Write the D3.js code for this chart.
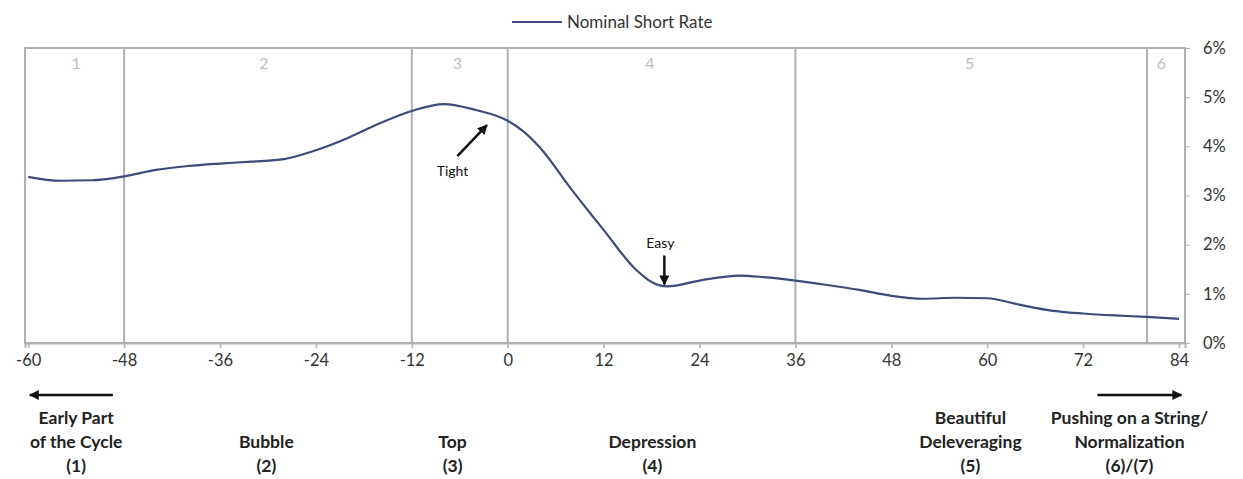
<!DOCTYPE html>
<html><head><meta charset="utf-8">
<script src="https://cdn.jsdelivr.net/npm/d3@7"></script>
<style>
body{margin:0;background:#fff;}
svg{display:block;}
</style></head>
<body>
<svg id="c" width="1243" height="479"></svg>
<script>
const months = [-60,-56,-52,-48,-44,-40,-36,-32,-28,-24,-20,-16,-12,-8,-4,0,2,4,8,12,16,18,20,24,29,32,36,40,44,48,52,56,60,64,68,72,76,80,84];
const rates  = [3.38,3.30,3.31,3.39,3.52,3.60,3.65,3.69,3.74,3.92,4.17,4.47,4.72,4.86,4.74,4.52,4.3,3.98,3.12,2.3,1.5,1.24,1.15,1.27,1.37,1.34,1.27,1.18,1.08,0.96,0.9,0.92,0.91,0.78,0.66,0.6,0.56,0.53,0.49];
const xTicks = [-60,-48,-36,-24,-12,0,12,24,36,48,60,72,84];
const yTicks = [0,1,2,3,4,5,6];
const phaseBounds = [-48,-12,0,36,80];
const phaseNums = ["1","2","3","4","5","6"];
const phaseNumPos = [-54,-30.5,-6.3,17.8,57.8,81.8];
const phaseLabels = [["Early Part","of the Cycle","(1)"],["Bubble","(2)"],["Top","(3)"],["Depression","(4)"],["Beautiful","Deleveraging","(5)"],["Pushing on a String/","Normalization","(6)/(7)"]];
const phaseLabelPos = [-54,-30.2,-6.9,18.1,57.9,77.8];
const legendLabel = "Nominal Short Rate";

const svg = d3.select("#c");
const L=25, R=1185, T=48, B=343;
const x = d3.scaleLinear().domain([-60.4,84.75]).range([L,R]);
const y = d3.scaleLinear().domain([0,6]).range([B,T]);
const font = "Lato,'Open Sans',sans-serif";
const grey = "#b0b0b0";

// frame
svg.append("rect").attr("x",L).attr("y",T).attr("width",R-L).attr("height",B-T)
  .attr("fill","none").attr("stroke",grey).attr("stroke-width",2);

// phase boundaries
svg.selectAll(".pb").data(phaseBounds).join("line")
  .attr("x1",d=>x(d)).attr("x2",d=>x(d)).attr("y1",T).attr("y2",B)
  .attr("stroke",grey).attr("stroke-width",2);

// phase numbers
svg.selectAll(".pn").data(phaseNums).join("text")
  .attr("x",(d,i)=>x(phaseNumPos[i])).attr("y",69).attr("text-anchor","middle")
  .attr("font-family",font).attr("font-size",16).attr("fill","#bdbdbd").text(d=>d);

// x axis
const xa = svg.append("g").attr("transform",`translate(0,${B})`)
  .call(d3.axisBottom(x).tickValues(xTicks).tickSize(5).tickPadding(6).tickFormat(d=>d));
xa.select(".domain").attr("stroke",grey).attr("stroke-width",2);
xa.selectAll(".tick line").attr("stroke",grey).attr("stroke-width",1.5);
xa.selectAll("text").attr("font-family",font).attr("font-size",16.5).attr("fill","#333");

// y axis right
const ya = svg.append("g").attr("transform",`translate(${R},0)`)
  .call(d3.axisRight(y).tickValues(yTicks).tickSize(5).tickPadding(13).tickFormat(d=>d+"%"));
ya.select(".domain").remove();
ya.selectAll(".tick line").attr("stroke",grey).attr("stroke-width",1);
ya.selectAll("text").attr("font-family",font).attr("font-size",16.5).attr("fill","#333");

// line
const line = d3.line().x((d,i)=>x(months[i])).y(d=>y(d)).curve(d3.curveMonotoneX);
svg.append("path").datum(rates).attr("d",line).attr("fill","none")
  .attr("stroke","#3c4a7c").attr("stroke-width",2.2);

// legend
svg.append("line").attr("x1",512).attr("x2",562).attr("y1",22).attr("y2",22)
  .attr("stroke","#3c4a7c").attr("stroke-width",2.2);
svg.append("text").attr("x",567).attr("y",28).attr("font-family",font).attr("font-size",17)
  .attr("fill","#333").text(legendLabel);

// arrow marker
const defs = svg.append("defs");
defs.append("marker").attr("id","ah").attr("viewBox","0 0 10 10").attr("refX",9).attr("refY",5)
  .attr("markerWidth",4).attr("markerHeight",4).attr("orient","auto")
  .append("path").attr("d","M0,0 L10,5 L0,10 Z").attr("fill","#111");

// Tight annotation
svg.append("line").attr("x1",x(-6.3)).attr("y1",y(3.8)).attr("x2",x(-2.6)).attr("y2",y(4.43))
  .attr("stroke","#111").attr("stroke-width",2.5).attr("marker-end","url(#ah)");
svg.append("text").attr("x",x(-6.9)).attr("y",176).attr("text-anchor","middle")
  .attr("font-family",font).attr("font-size",14).attr("fill","#111").text("Tight");
// Easy annotation
svg.append("line").attr("x1",x(19.6)).attr("y1",y(1.78)).attr("x2",x(19.6)).attr("y2",y(1.19))
  .attr("stroke","#111").attr("stroke-width",2.5).attr("marker-end","url(#ah)");
svg.append("text").attr("x",x(19.1)).attr("y",248).attr("text-anchor","middle")
  .attr("font-family",font).attr("font-size",14).attr("fill","#111").text("Easy");

// bottom arrows
svg.append("line").attr("x1",x(-49.4)).attr("x2",x(-59.8)).attr("y1",395).attr("y2",395)
  .attr("stroke","#111").attr("stroke-width",2.5).attr("marker-end","url(#ah)");
svg.append("line").attr("x1",x(73.8)).attr("x2",x(84.3)).attr("y1",395).attr("y2",395)
  .attr("stroke","#111").attr("stroke-width",2.5).attr("marker-end","url(#ah)");

// phase labels
phaseLabels.forEach((lines,i)=>{
  const n = lines.length;
  const t = svg.append("text").attr("text-anchor","middle").attr("font-family",font)
    .attr("font-size",17.5).attr("font-weight","bold").attr("fill","#222");
  lines.forEach((s,j)=>{
    t.append("tspan").attr("x",x(phaseLabelPos[i])).attr("y",472-(n-1-j)*24).text(s);
  });
});
</script>
</body></html>
